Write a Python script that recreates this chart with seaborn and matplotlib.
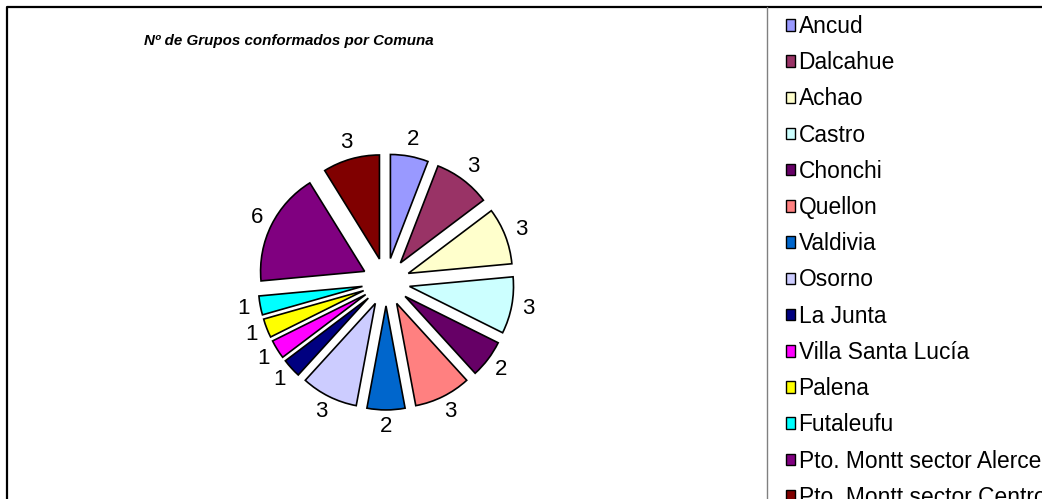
import matplotlib
matplotlib.use("Agg")
import matplotlib.pyplot as plt
import seaborn as sns
from matplotlib.patches import Patch
from matplotlib.lines import Line2D

# ---- data ----
comunas = ["Ancud", "Dalcahue", "Achao", "Castro", "Chonchi", "Quellon", "Valdivia",
           "Osorno", "La Junta", "Villa Santa Lucía", "Palena", "Futaleufu",
           "Pto. Montt sector Alerce", "Pto. Montt sector Centro"]
grupos = [2, 3, 3, 3, 2, 3, 2, 3, 1, 1, 1, 1, 6, 3]
colores = ["#9999FF", "#993366", "#FFFFCC", "#CCFFFF", "#660066", "#FF8080", "#0066CC",
           "#CCCCFF", "#000080", "#FF00FF", "#FFFF00", "#00FFFF", "#800080", "#800000"]
titulo = "Nº de Grupos conformados por Comuna"

sns.set_theme(style="white")
plt.rcParams["font.family"] = ["Liberation Sans", "DejaVu Sans"]
plt.rcParams["text.color"] = "black"

W, H = 1042, 499
fig = plt.figure(figsize=(W / 100, H / 100), dpi=100)
fig.patch.set_facecolor("white")

# pie axes: center at (386, 282) px, radius 104 px
cx, cy, half = 386, 282, 200
r_px = 104
ax = fig.add_axes([(cx - half) / W, (H - cy - half) / H, 2 * half / W, 2 * half / H])
palette = sns.color_palette(colores)
wedges, texts = ax.pie(grupos, labels=[str(v) for v in grupos], colors=palette,
                       startangle=90, counterclock=False, radius=1,
                       explode=[0.23] * len(grupos), labeldistance=1.16,
                       wedgeprops=dict(edgecolor="black", linewidth=1.2),
                       textprops=dict(fontsize=16, color="black"))
for t in texts:
    t.set_ha("center")
    t.set_va("center")
lim = half / r_px
ax.set_xlim(-lim, lim)
ax.set_ylim(-lim, lim)
ax.set_aspect("equal")
ax.axis("off")

# title
fig.text(288.5 / W, 1 - 44.5 / H, titulo, ha="center", va="baseline",
         fontsize=10.9, fontweight="bold", fontstyle="italic", color="black")

# chart border (left and top visible)
fig.add_artist(Line2D([6.5 / W, 6.5 / W, 1.05], [-0.05, 1 - 6.5 / H, 1 - 6.5 / H],
                      transform=fig.transFigure, color="black", linewidth=1.6,
                      clip_on=False))
# legend frame left edge
fig.add_artist(Line2D([767 / W, 767 / W], [-0.05, 1 - 6.5 / H],
                      transform=fig.transFigure, color="#808080", linewidth=1.0,
                      clip_on=False))

handles = [Patch(facecolor=c, edgecolor="black", linewidth=1.0) for c in colores]
leg = fig.legend(handles, comunas, loc="upper left",
                 bbox_to_anchor=(786 / W, 1 - 15 / H), frameon=False,
                 fontsize=16.4, handlelength=0.4, handleheight=0.4,
                 handletextpad=0.15, labelspacing=0.58, borderpad=0,
                 borderaxespad=0, labelcolor="black")

fig.savefig("out.png", dpi=100)
